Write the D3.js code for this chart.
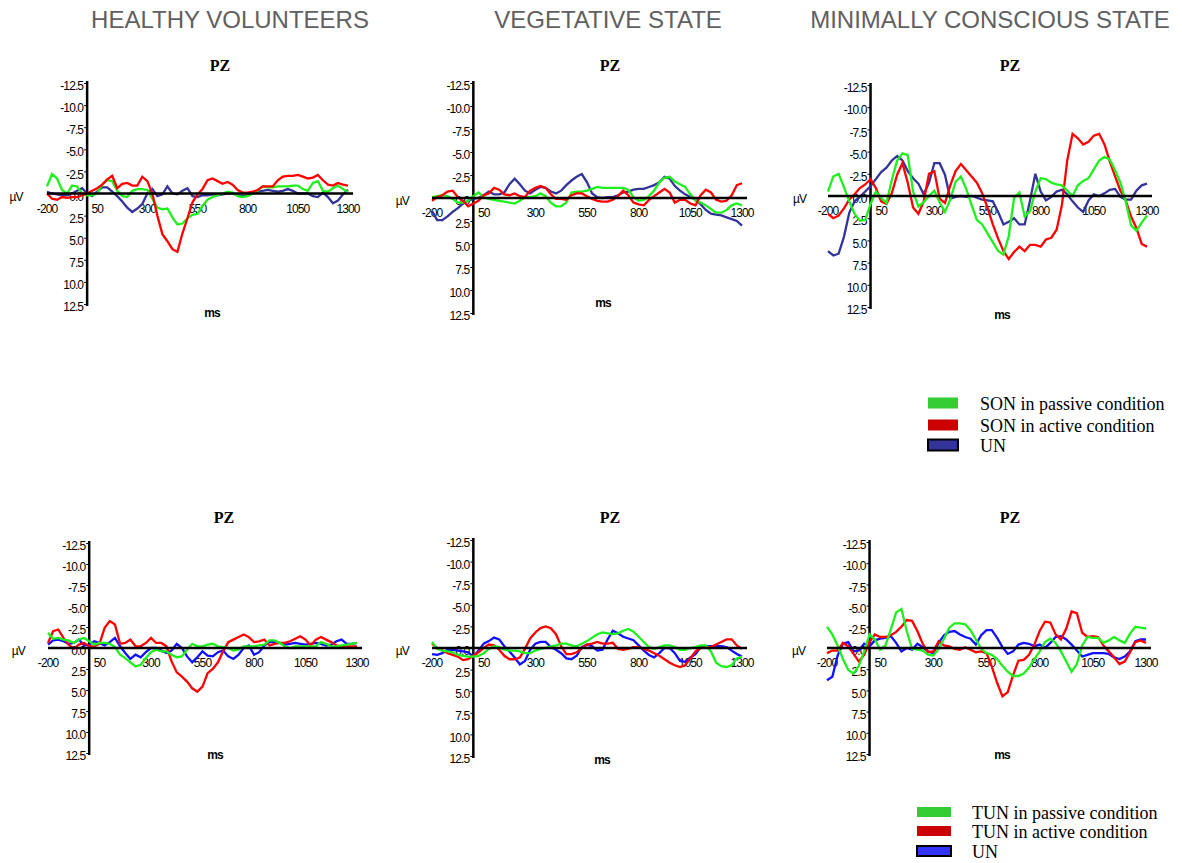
<!DOCTYPE html>
<html>
<head>
<meta charset="utf-8">
<script src="https://cdn.jsdelivr.net/npm/d3@7"></script>
<style>
  body { margin: 0; background: #fff; }
  svg { display: block; background: #fff; }
  .tk { font-family: "Liberation Sans", Arial, sans-serif; font-size: 12px; letter-spacing: -0.9px; fill: #000; }
  .hdr { font-family: "Liberation Sans", Arial, sans-serif; font-size: 24px; fill: #606060; }
  .ttl { font-family: "Liberation Serif", "Times New Roman", serif; font-size: 16px; font-weight: bold; fill: #000; }
  .leg { font-family: "Liberation Serif", "Times New Roman", serif; font-size: 18px; fill: #000; }
</style>
</head>
<body>
<svg id="chart" width="1182" height="863"></svg>
<script>
// sampling grid (ms) shared by every waveform
const times = d3.range(-200, 1301, 25);

const groups = ["HEALTHY VOLUNTEERS", "VEGETATIVE STATE", "MINIMALLY CONSCIOUS STATE"];
const xTicks = [-200, 50, 300, 550, 800, 1050, 1300];
const yTicks = [-12.5, -10, -7.5, -5, -2.5, 0, 2.5, 5, 7.5, 10, 12.5];

// top row: own name (SON) and unknown name (UN), values in microvolts
const hvSonPassive = [-0.8, -2.2, -1.7, -0.4, 0, -0.9, -0.8, 0, 0.2, 0.2, 0,
  -1.0, -1.5, -1.4, -0.3, 0.3, 0.4, -0.3, -0.5, -0.5, -0.4,
  0.6, 1.6, 1.8, 1.7, 2.7, 3.5, 3.4, 2.8, 2.4, 2.3,
  1.4, 0.7, 0.4, 0.2, 0, -0.2, -0.1, 0.3, 0.4, 0.3,
  0, -0.3, -0.8, -0.7, -0.7, -0.8, -0.8, -0.8, -0.9, -0.9,
  -0.5, -0.3, -1.2, -1.4, -0.3, -0.2, -0.6, -0.9, -0.5, -0.2];
const hvSonActive = [0, 0.6, 0.7, 0.4, 0.5, 0.4, 0.4, 0.2, 0, -0.3, -0.6,
  -1.0, -1.6, -2.0, -0.6, -1.1, -1.2, -0.9, -0.9, -1.9, -1.4,
  0, 2.5, 4.6, 5.4, 6.3, 6.6, 4.5, 2.8, 1.0, 0.1,
  -0.5, -1.5, -1.7, -1.4, -1.1, -1.3, -1.0, -0.4, -0.1, -0.1,
  -0.2, -0.4, -0.8, -0.8, -0.8, -1.5, -1.9, -2.0, -2.0, -2.1,
  -1.9, -1.7, -1.8, -2.1, -1.5, -1.0, -0.9, -1.2, -1.0, -0.9];
const hvUnTop = [-0.2, 0, 0.1, 0.2, 0.2, 0, -0.3, -0.6, 0, 0.3, -0.2,
  -0.7, -0.7, -0.2, 0.3, 0.9, 1.6, 2.1, 1.7, 1.2, 0,
  -0.5, 0.3, 0.1, -0.8, 0, 0.1, -0.3, -0.6, 0.3, 0.4,
  0.2, 0.2, 0.1, 0.2, 0.1, 0, 0, 0.2, 0.3, 0.2,
  0, -0.2, -0.3, -0.4, -0.3, -0.2, -0.3, -0.5, -0.3, 0,
  0, 0, 0.3, 0.4, -0.1, 0.4, 1.1, 0.8, 0.1, -0.4];

const vsSonPassive = [-0.1, -0.2, -0.3, -0.2, 0.1, 0.5, 0.5, 0.3, -0.2, -0.6, -0.1,
  0.1, 0.2, 0.3, 0.4, 0.5, 0.6, 0.3, -0.1, -0.1, -0.2,
  -0.5, -0.2, 0.5, 0.9, 0.9, 0.5, -0.6, -0.7, -0.7, -0.8,
  -1.0, -1.2, -1.1, -1.1, -1.1, -1.1, -1.1, -0.9, -0.1, 0.3,
  0.2, -0.2, -0.8, -1.7, -2.2, -2.3, -1.8, -1.5, -1.2, -0.4,
  0.3, 0.5, 0.8, 1.2, 1.6, 1.6, 1.3, 0.8, 0.6, 0.8];
const vsSonActive = [0.3, -0.1, -0.3, -0.7, -0.8, -0.1, 0.3, 0.9, 0.6, 0.3, -0.3,
  -0.5, -1.1, -0.9, -0.4, -0.3, -0.5, -0.2, -0.1, -0.8, -1.1,
  -1.3, -1.1, -0.4, 0.1, 0.1, 0.2, -0.3, -0.5, -0.5, -0.2,
  0.1, 0.3, 0.4, 0.4, 0.2, -0.2, -0.8, -0.3, 0.5, 0.7,
  0.8, 0.2, -0.2, -0.6, -1.0, -0.6, 0.5, 0.2, 0.2, 0.6,
  0.8, -0.3, -0.9, -0.6, 0.2, 0.4, 0.3, -0.3, -1.4, -1.6];
const vsUnTop = [1.4, 2.4, 2.4, 2.0, 1.5, 1.1, 0.6, 0.3, 0.1, 0, -0.3,
  -0.7, -0.4, -0.4, -0.6, -1.5, -2.1, -1.5, -0.8, -0.5, -0.9,
  -1.2, -1.1, -0.7, -0.5, -0.8, -1.4, -1.9, -2.3, -2.6, -1.7,
  -0.5, -0.1, 0, -0.1, -0.1, -0.3, -0.6, -0.7, -0.9, -1.0,
  -1.0, -1.2, -1.4, -1.7, -2.3, -2.1, -1.3, -0.8, -0.4, -0.1,
  0.2, 0.7, 1.3, 1.7, 1.8, 1.9, 2.1, 2.3, 2.5, 3.0];

const mcsSonPassive = [-0.5, -2.2, -2.5, -1.0, 0.6, 2.0, 2.8, 2.7, 0.9, -0.5, 0.2,
  0.8, -1.8, -4.0, -4.8, -4.6, -0.5, 1.2, 0.7, 0, -0.6,
  0.7, 1.8, 0.4, -1.6, -2.2, -0.8, 1.0, 2.7, 3.2, 4.2,
  5.2, 6.2, 6.6, 4.5, 0.2, -0.4, 2.3, 1.7, -0.5, -2.0,
  -1.9, -1.5, -1.3, -1.2, -0.6, 0, -1.2, -1.7, -2.0, -3.0,
  -4.0, -4.4, -4.1, -2.9, -1.5, 0.6, 3.3, 3.9, 3.0, 2.2];
const mcsSonActive = [2.0, 2.5, 2.2, 1.4, 0.4, -0.2, -0.9, -1.3, -1.9, -0.9, 0.6,
  0.9, -0.3, -2.4, -3.7, -1.5, 1.3, 2.0, 0.6, -2.5, -2.8,
  0.3, 0.8, -1.2, -2.8, -3.6, -2.9, -2.2, -1.5, -0.3, 1.3,
  3.2, 4.8, 6.2, 7.1, 6.3, 5.7, 6.2, 5.5, 5.5, 5.7,
  4.9, 4.7, 3.8, 1.0, -4.0, -7.0, -6.5, -5.8, -6.1, -6.8,
  -7.0, -5.8, -3.9, -2.2, -0.6, 0.5, 2.3, 3.6, 5.4, 5.7];
const mcsUnTop = [6.2, 6.7, 6.5, 4.6, 1.9, 0.6, 0.1, -0.5, -1.1, -1.9, -2.7,
  -3.2, -4.0, -4.5, -4.0, -2.8, -2.0, -1.4, -0.2, -1.5, -3.7,
  -3.7, -2.4, 0.3, 0.1, 0, 0.1, 0, 0.2, 0.4, 0.5,
  0.6, 1.8, 3.2, 2.9, 2.5, 3.2, 3.2, 0.5, -2.5, -0.5,
  0.5, 0.1, -0.5, -0.7, -0.2, 0.6, 1.3, 1.8, 0.5, -0.2,
  0, -0.3, -0.7, -0.8, 0.1, 0.4, 0.4, -0.6, -1.2, -1.4];

// bottom row: other name (TUN) and unknown name (UN)
const hvTunPassive = [-1.8, -1.1, -1.2, -1.0, -0.9, -0.6, -1.0, -1.2, -0.8, -0.4, -0.6,
  -0.6, -0.5, -0.1, 0.8, 1.2, 1.7, 2.2, 2.0, 1.2, 0.5,
  0.2, 0.4, 0.4, 0.8, 1.1, 1.0, 0.2, -0.5, -0.2, -0.2,
  -0.4, -0.5, -0.2, -0.1, 0, 0.3, 0.2, -0.2, -0.2, -0.2,
  -0.3, -0.4, -0.9, -0.9, -0.6, -0.2, 0, -0.2, -0.2, -0.2,
  -0.2, -0.2, -0.7, -0.5, -0.2, -0.2, -0.3, -0.4, -0.5, -0.6];
const hvTunActive = [-0.6, -2.0, -2.2, -1.2, -0.4, 0.1, -0.4, -0.6, -0.2, -0.2, -0.5,
  -2.4, -3.2, -2.8, -0.5, -0.6, -1.0, -0.2, -0.2, -0.6, -1.2,
  -0.6, -0.6, -0.2, 1.6, 2.9, 3.4, 4.0, 4.8, 5.2, 4.6,
  3.0, 2.5, 1.7, 0.4, -0.7, -1.0, -1.3, -1.6, -1.3, -0.7,
  -0.8, -1.0, -0.3, -0.5, -0.6, -0.6, -0.8, -1.1, -1.4, -1.0,
  -0.3, -1.0, -1.3, -1.0, -0.7, -0.3, -0.2, -0.2, -0.2, -0.2];
const hvUnBottom = [-0.4, -0.9, -1.0, -0.8, -0.5, -0.6, -1.0, -0.3, -0.4, -0.8, -0.6,
  -0.3, -0.7, -1.2, -0.2, 0.6, 1.3, 0.8, 1.1, 0.5, 0,
  0, 0.3, 0.6, 0.3, -0.5, 0, 1.0, 1.7, 1.1, 0.4,
  0.9, 1.0, 0.5, 0.3, 1.0, 1.3, 0.8, 0, -0.3, 0.8,
  0.5, -0.3, -0.7, -0.7, -0.6, -0.4, -0.5, -0.6, -0.5, -0.4,
  -0.5, -0.6, -0.5, -0.3, -0.4, -0.8, -1.0, -0.5, -0.5, -0.6];

const vsTunPassive = [-0.7, 0.1, 0.3, 0.4, 0.5, 0.8, 0.9, 1.0, 1.0, 0.9, 0.6,
  0.1, -0.2, -0.1, 0.2, 0.3, 0.3, 0.4, 0.6, 0.6, 0.3,
  0.1, 0, -0.2, -0.3, -0.5, -0.5, -0.3, -0.2, -0.5, -0.8,
  -1.2, -1.6, -1.8, -1.7, -1.6, -1.7, -2.0, -2.2, -1.9, -1.3,
  -0.7, -0.1, 0.1, -0.1, -0.3, -0.3, -0.1, 0.2, 0.2, 0,
  -0.1, -0.3, -0.3, 0.4, 1.7, 2.1, 2.2, 2.0, 1.2, 1.0];
const vsTunActive = [-0.5, 0, 0.3, 0.6, 0.8, 1.0, 1.4, 1.3, 0.9, 0.5, 0,
  -0.4, -0.3, 0.2, 0.9, 1.3, 1.3, 1.1, 0.1, -1.1, -1.8,
  -2.3, -2.5, -2.3, -1.6, -0.2, 0.7, 0.7, 0.5, 0, -0.4,
  -0.5, -0.7, -0.5, -0.5, -0.6, 0.1, 0.2, 0.1, -0.1, -0.1,
  0.1, 0.3, 0.6, 0.9, 1.3, 1.7, 2.0, 2.2, 2.0, 1.2,
  0.4, 0, -0.1, -0.1, -0.4, -0.7, -1.0, -1.0, -0.3, 0.1];
const vsUnBottom = [0.7, 0.8, 0.6, 0.2, 0.2, 0.3, 0.4, 0.5, 1.0, 0.3, -0.5,
  -0.8, -1.2, -1.0, -0.2, 0.4, 1.1, 1.9, 1.5, 0.2, -0.5,
  -0.7, -0.7, -0.1, 0.2, 0.6, 1.2, 1.3, 0.9, -0.1, -0.4,
  -0.2, 0.3, 0.2, -1.0, -2.0, -1.7, -1.3, -1.1, -0.9, -0.3,
  0.3, 0.8, 1.1, 0.6, 0, 0, 0.6, 1.5, 1.6, 1.1,
  0.7, -0.1, -0.2, -0.2, -0.2, -0.2, -0.1, 0.3, 0.7, 1.0];

const mcsTunPassive = [-2.5, -1.6, -0.3, 1.3, 2.6, 3.0, 2.1, 0.4, -1.6, -1.0, 0.2,
  -0.3, -2.2, -4.2, -4.6, -2.0, 0.1, 0.2, 0.3, 0.8, 0.9,
  0.1, -1.1, -2.4, -2.9, -2.9, -2.8, -2.1, -1.0, 0.1, 0.6,
  0.8, 1.3, 2.1, 2.8, 3.3, 3.3, 3.0, 2.3, 1.3, 0.4,
  -0.7, -1.1, -0.6, 0.4, 1.6, 2.8, 1.9, -0.3, -1.3, -1.2,
  -1.2, -0.6, -0.9, -1.3, -0.9, -0.6, -1.7, -2.5, -2.4, -2.3];
const mcsTunActive = [0.6, 0.3, 0.3, -0.6, -0.2, 0.7, 1.6, 0.8, -0.7, -1.6, -1.3,
  -1.3, -1.5, -1.9, -2.5, -3.3, -3.2, -2.0, -0.5, 0.5, 0.4,
  -0.8, -0.3, -0.2, 0.1, 0.2, -0.1, 0.2, 0.5, 0.4, 0.6,
  2.2, 4.1, 5.7, 5.2, 3.2, 1.5, 1.4, 0.8, -0.4, -2.0,
  -3.1, -3.0, -1.6, -1.0, -2.3, -4.3, -4.1, -1.8, -1.3, -1.4,
  -1.3, -0.3, 0.4, 1.1, 1.9, 1.6, 0.5, -0.7, -0.9, -0.6];
const mcsUnBottom = [3.8, 3.4, 0.9, -0.5, -0.7, 0.4, 0.3, -0.5, -0.2, -0.9, -1.1,
  -1.2, -1.4, -0.6, 0.4, 0, 0.2, -0.5, -0.1, 0.4, 0.6,
  -0.6, -1.5, -1.9, -2.0, -1.6, -1.3, -1.1, -0.4, -1.5, -2.1,
  -2.1, -1.2, -0.1, 0.7, 0.4, -0.4, -0.6, -0.5, -0.2, -0.4,
  0, -0.6, -1.3, -1.4, -1.0, -0.4, 0.3, 1.0, 0.8, 0.6,
  0.6, 0.6, 0.7, 1.1, 1.3, 1.0, 0.4, -0.8, -1.0, -1.0];

const topLegend = ["SON in passive condition", "SON in active condition", "UN"];
const bottomLegend = ["TUN in passive condition", "TUN in active condition", "UN"];

// colours
const green = "#1ef01e", red = "#ff0000", navy = "#333399", blue = "#1010ff";
const swGreen = "#33cc33", swRed = "#cc0000";

// panel frames (screen layout)
const panels = [
  {x0: 47, x1: 348, yTop: 83, yBot: 304, titleX: 220, titleY: 71, msX: 212, msY: 317,
   series: [[hvUnTop, navy], [hvSonPassive, green], [hvSonActive, red]]},
  {x0: 432, x1: 742, yTop: 83, yBot: 313, titleX: 610, titleY: 71, msX: 603, msY: 307,
   series: [[vsUnTop, navy], [vsSonPassive, green], [vsSonActive, red]]},
  {x0: 828, x1: 1147, yTop: 85, yBot: 307, titleX: 1010, titleY: 71, msX: 1002, msY: 319,
   series: [[mcsUnTop, navy], [mcsSonActive, red], [mcsSonPassive, green]]},
  {x0: 48, x1: 357, yTop: 543, yBot: 753, titleX: 224, titleY: 523, msX: 215, msY: 759,
   series: [[hvUnBottom, blue], [hvTunActive, red], [hvTunPassive, green]]},
  {x0: 432, x1: 742, yTop: 540, yBot: 756, titleX: 610, titleY: 523, msX: 602, msY: 764,
   series: [[vsUnBottom, blue], [vsTunActive, red], [vsTunPassive, green]]},
  {x0: 827, x1: 1146, yTop: 542, yBot: 754, titleX: 1010, titleY: 523, msX: 1002, msY: 759,
   series: [[mcsUnBottom, blue], [mcsTunActive, red], [mcsTunPassive, green]]}
];

const svg = d3.select("#chart");

// group headers
svg.selectAll("text.hdr")
  .data(groups)
  .enter().append("text")
    .attr("class", "hdr")
    .attr("x", (d, i) => [230, 608, 990][i])
    .attr("y", 28)
    .attr("text-anchor", "middle")
    .text(d => d);

panels.forEach(p => {
  const x = d3.scaleLinear().domain([-200, 1300]).range([p.x0, p.x1]);
  const y = d3.scaleLinear().domain([-12.5, 12.5]).range([p.yTop, p.yBot]);
  const g = svg.append("g");
  const ax = x(0), zy = y(0);

  g.append("text").attr("class", "ttl")
    .attr("x", p.titleX).attr("y", p.titleY)
    .attr("text-anchor", "middle").text("PZ");

  // vertical axis with labels on the left
  const yAxis = d3.axisLeft(y).tickValues(yTicks).tickSize(3).tickPadding(1)
    .tickFormat(d => d.toFixed(1));
  const ya = g.append("g").attr("transform", `translate(${ax},0)`).call(yAxis);
  ya.select(".domain").remove();
  ya.selectAll("line").attr("stroke", "#000");
  ya.selectAll("text").attr("class", "tk").attr("font-size", null).attr("font-family", null)
    .attr("dy", "0.55em");
  g.append("line")
    .attr("x1", ax).attr("x2", ax)
    .attr("y1", y(-12.5) - 2).attr("y2", y(12.5) + 2)
    .attr("stroke", "#000").attr("stroke-width", 2.5);

  // time labels under the baseline
  g.selectAll("text.xl")
    .data(xTicks)
    .enter().append("text")
      .attr("class", "tk")
      .attr("x", d => x(d))
      .attr("y", zy + 19)
      .attr("text-anchor", "middle")
      .text(d => d);

  g.append("text").attr("class", "tk")
    .attr("x", ax - 71).attr("y", zy + 7)
    .attr("text-anchor", "middle").text("\u00b5V");
  g.append("text").attr("class", "tk")
    .attr("x", p.msX).attr("y", p.msY)
    .attr("text-anchor", "middle").attr("font-weight", "bold").text("ms");

  // waveforms
  const line = d3.line()
    .x((d, i) => x(times[i]))
    .y(d => y(d))
    .curve(d3.curveLinear);

  g.selectAll("path.wave")
    .data(p.series)
    .enter().append("path")
      .attr("fill", "none")
      .attr("stroke", d => d[1])
      .attr("stroke-width", 2.3)
      .attr("stroke-linejoin", "miter")
      .attr("d", d => line(d[0]));

  // zero line
  g.append("line")
    .attr("x1", x(-200)).attr("x2", x(1300) + 5)
    .attr("y1", zy).attr("y2", zy)
    .attr("stroke", "#000").attr("stroke-width", 2.5);
});

// legends
function legend(labels, colors, sx, sw, sh, tx, ys) {
  const lg = svg.append("g");
  labels.forEach((lab, i) => {
    lg.append("rect")
      .attr("x", sx).attr("y", ys[i] - sh / 2)
      .attr("width", sw).attr("height", sh)
      .attr("fill", colors[i])
      .attr("stroke", i === 2 ? "#000" : "none")
      .attr("stroke-width", 2);
    lg.append("text").attr("class", "leg")
      .attr("x", tx).attr("y", ys[i] + 7)
      .text(lab);
  });
}
legend(topLegend, [swGreen, swRed, navy], 928, 30, 11, 980, [403, 425, 445]);
legend(bottomLegend, [swGreen, swRed, "#3333ff"], 917, 34, 10, 972, [812, 831, 851]);
</script>
</body>
</html>
